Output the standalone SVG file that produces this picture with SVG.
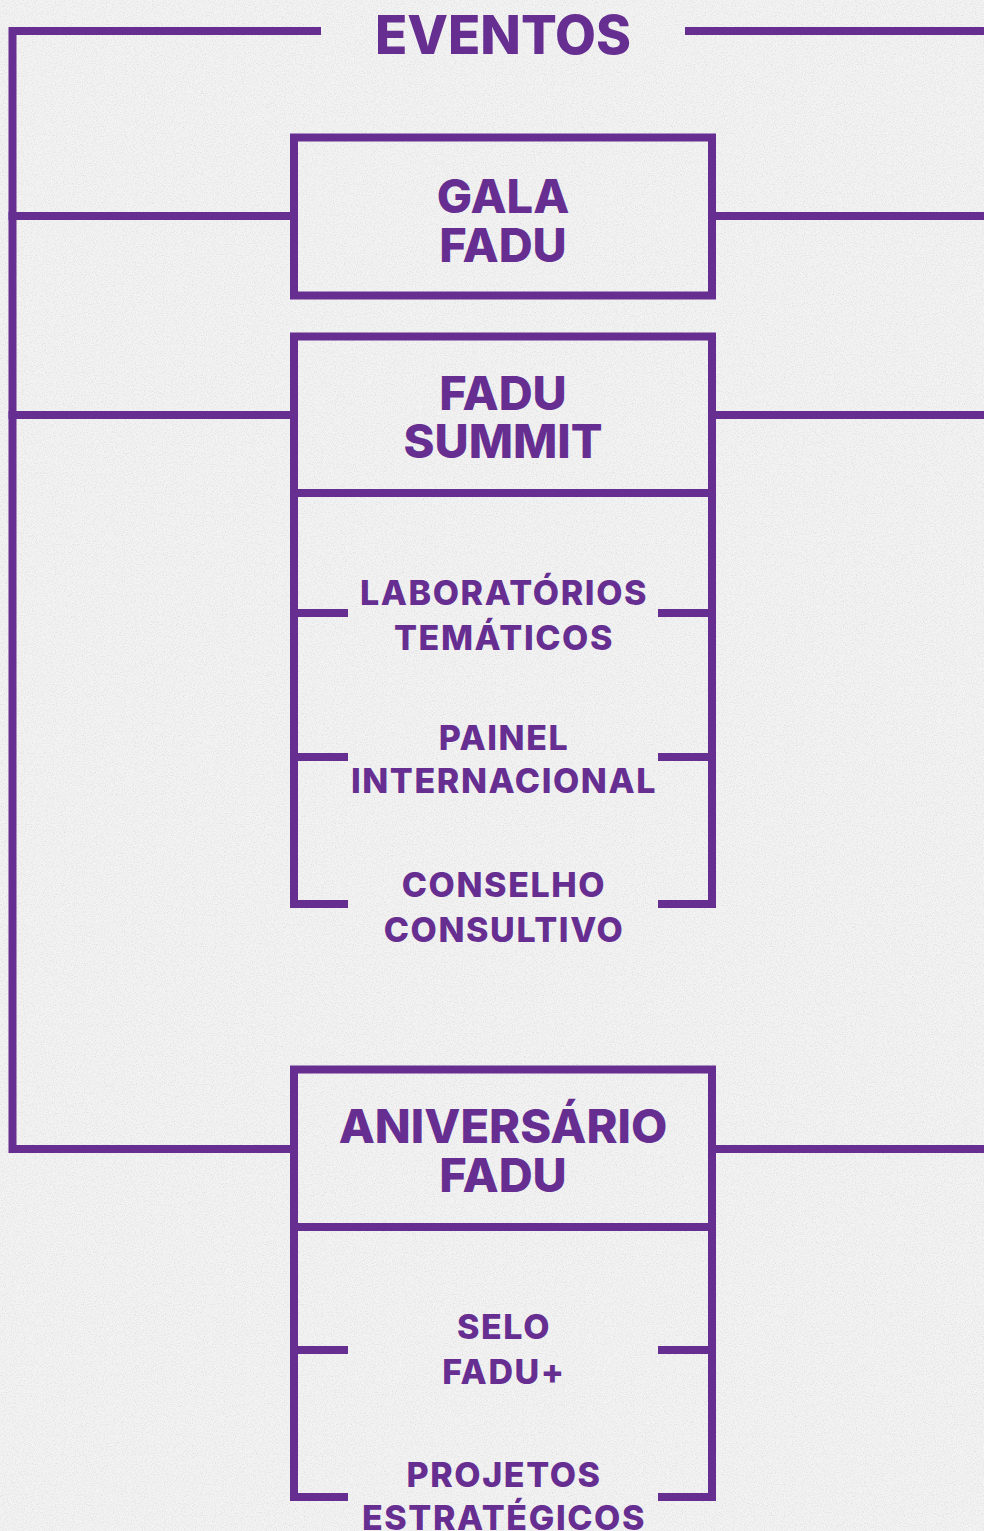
<svg xmlns="http://www.w3.org/2000/svg" width="984" height="1531" viewBox="0 0 984 1531">
  <defs>
    <filter id="grain" x="0" y="0" width="100%" height="100%">
      <feTurbulence type="fractalNoise" baseFrequency="0.9" numOctaves="2" seed="3" result="n"/>
      <feColorMatrix type="matrix" values="0 0 0 0 0.45  0 0 0 0 0.45  0 0 0 0 0.45  0 0 0 -2.2 1.25" />
    </filter>
    <style>
      .ln { fill: none; stroke: #662e91; stroke-width: 8; stroke-linecap: square; }
      .box { fill: none; stroke: #662e91; stroke-width: 8; }
      .t { font-family: Inter, "Liberation Sans", sans-serif; font-weight: 800; fill: #662e91; text-anchor: middle; }
      .h1 { font-size: 53px; }
      .h2 { font-size: 47px; }
      .h3 { font-size: 34px; letter-spacing: 1.6px; }
    </style>
  </defs>
  <rect x="0" y="0" width="984" height="1531" fill="#f3f3f3"/>
  <rect x="0" y="0" width="984" height="1531" filter="url(#grain)" opacity="0.3"/>

  <g id="title">
    <text class="t h1" x="503" y="54">EVENTOS</text>
  </g>

  <g id="connectors">
    <polyline class="ln" points="317,31 12.5,31 12.5,1149 294,1149"/>
    <line class="ln" x1="689" y1="31" x2="990" y2="31"/>
    <line class="ln" x1="12.5" y1="216" x2="294" y2="216"/>
    <line class="ln" x1="712" y1="216" x2="990" y2="216"/>
    <line class="ln" x1="12.5" y1="415" x2="294" y2="415"/>
    <line class="ln" x1="712" y1="415" x2="990" y2="415"/>
    <line class="ln" x1="712" y1="1149" x2="990" y2="1149"/>
  </g>

  <g id="gala-fadu">
    <rect class="box" x="294" y="137.5" width="418" height="158"/>
    <text class="t h2" x="503" y="213">GALA</text>
    <text class="t h2" x="503" y="262">FADU</text>
  </g>

  <g id="fadu-summit">
    <rect class="box" x="294" y="336.5" width="418" height="156.5"/>
    <text class="t h2" x="503" y="410">FADU</text>
    <text class="t h2" x="503" y="458">SUMMIT</text>
    <polyline class="box" points="294,493 294,904 348,904"/>
    <polyline class="box" points="712,493 712,904 658,904"/>
  </g>

  <g id="laboratorios-tematicos">
    <line class="box" x1="294" y1="613" x2="348" y2="613"/>
    <line class="box" x1="658" y1="613" x2="712" y2="613"/>
    <text class="t h3" x="504" y="605">LABORATÓRIOS</text>
    <text class="t h3" x="504" y="650">TEMÁTICOS</text>
  </g>

  <g id="painel-internacional">
    <line class="box" x1="294" y1="757" x2="348" y2="757"/>
    <line class="box" x1="658" y1="757" x2="712" y2="757"/>
    <text class="t h3" x="504" y="750">PAINEL</text>
    <text class="t h3" x="504" y="793">INTERNACIONAL</text>
  </g>

  <g id="conselho-consultivo">
    <text class="t h3" x="504" y="897">CONSELHO</text>
    <text class="t h3" x="504" y="942">CONSULTIVO</text>
  </g>

  <g id="aniversario-fadu">
    <rect class="box" x="294" y="1069.5" width="418" height="157.5"/>
    <text class="t h2" x="503" y="1143">ANIVERSÁRIO</text>
    <text class="t h2" x="503" y="1192">FADU</text>
    <polyline class="box" points="294,1227 294,1497 348,1497"/>
    <polyline class="box" points="712,1227 712,1497 658,1497"/>
  </g>

  <g id="selo-fadu">
    <line class="box" x1="294" y1="1350" x2="348" y2="1350"/>
    <line class="box" x1="658" y1="1350" x2="712" y2="1350"/>
    <text class="t h3" x="504" y="1339">SELO</text>
    <text class="t h3" x="504" y="1384">FADU+</text>
  </g>

  <g id="projetos-estrategicos">
    <text class="t h3" x="504" y="1487">PROJETOS</text>
    <text class="t h3" x="504" y="1530">ESTRATÉGICOS</text>
  </g>
</svg>
